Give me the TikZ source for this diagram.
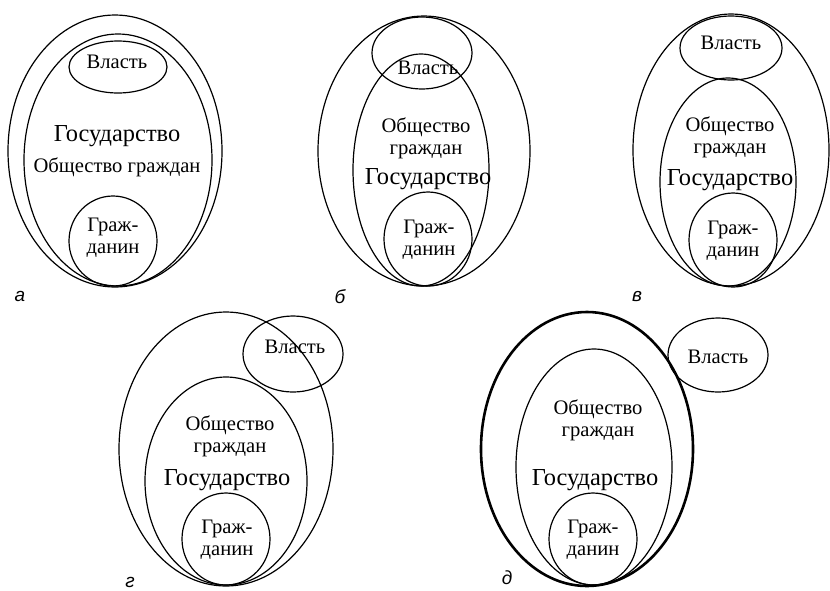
\documentclass[tikz,border=0pt]{standalone}
\usepackage{fontspec}
\setmainfont{Liberation Serif}
\newfontfamily\panelfont{Liberation Sans}
\usepackage{tikz}

\tikzset{
  part/.style={draw, line width=0.6pt},
  bold part/.style={draw, line width=1.3pt},
  txt/.style={font=\fontsize{10.3}{11}\selectfont, align=center, inner sep=0pt},
  bigtxt/.style={font=\fontsize{12.2}{13}\selectfont, inner sep=0pt},
  tag/.style={font=\panelfont\itshape\fontsize{9.5}{10}\selectfont, inner sep=0pt}
}

\begin{document}
\begin{tikzpicture}[x=0.5pt, y=-0.5pt]
      \useasboundingbox (0,0) rectangle (830,590);

      % Panel a - everything inside the state
      \draw[part] (115,151) ellipse [x radius=107, y radius=136];
      \draw[part] (118,160) ellipse [x radius=94, y radius=126];
      \draw[part] (118,67) ellipse [x radius=49, y radius=26];
      \draw[part] (113,241) ellipse [x radius=44, y radius=45];
      \node[txt] (vlastA) at (117,62) {Власть};
      \node[bigtxt] (gosA) at (117,136) {Государство};
      \node[txt] (obshA) at (117,167) {Общество граждан};
      \node[txt] (grazhA) at (113,238) {Граж-\\данин};
      \node[tag] (tagA) at (20,296) {а};

      % Panel b - power on the border of society
      \draw[part] (424,151) ellipse [x radius=106, y radius=135];
      \draw[part] (421,170) ellipse [x radius=68, y radius=116];
      \draw[part] (422,53) ellipse [x radius=50, y radius=36];
      \draw[part] (428,239) ellipse [x radius=44, y radius=47];
      \node[txt] (vlastB) at (428,68) {Власть};
      \node[txt] (obshB) at (426,138) {Общество\\граждан};
      \node[bigtxt] (gosB) at (428,179) {Государство};
      \node[txt] (grazhB) at (429,240) {Граж-\\данин};
      \node[tag] (tagB) at (340,297) {б};

      % Panel v - power apart from society
      \draw[part] (731,150) ellipse [x radius=98, y radius=136];
      \draw[part] (731,48) ellipse [x radius=51, y radius=32];
      \draw[part] (728,182) ellipse [x radius=68, y radius=104];
      \draw[part] (733,240) ellipse [x radius=44, y radius=47];
      \node[txt] (vlastV) at (731,43) {Власть};
      \node[txt] (obshV) at (730,137) {Общество\\граждан};
      \node[bigtxt] (gosV) at (730,180) {Государство};
      \node[txt] (grazhV) at (733,241) {Граж-\\данин};
      \node[tag] (tagV) at (637,297) {в};

      % Panel g - power on the border of the state
      \draw[part] (226,449) ellipse [x radius=107, y radius=137];
      \draw[part] (226,481) ellipse [x radius=81, y radius=104];
      \draw[part] (293,354) ellipse [x radius=50, y radius=38];
      \draw[part] (226,539) ellipse [x radius=44, y radius=46];
      \node[txt] (vlastG) at (295,347) {Власть};
      \node[txt] (obshG) at (230,436) {Общество\\граждан};
      \node[bigtxt] (gosG) at (227,480) {Государство};
      \node[txt] (grazhG) at (227,540) {Граж-\\данин};
      \node[tag] (tagG) at (130,582) {г};

      % Panel d - power outside the state
      \draw[bold part] (587,449) ellipse [x radius=106, y radius=137];
      \draw[part] (594,467) ellipse [x radius=78, y radius=118];
      \draw[part] (718,355) ellipse [x radius=50, y radius=37];
      \draw[part] (593,539) ellipse [x radius=44, y radius=46];
      \node[txt] (vlastD) at (718,357) {Власть};
      \node[txt] (obshD) at (598,420) {Общество\\граждан};
      \node[bigtxt] (gosD) at (595,480) {Государство};
      \node[txt] (grazhD) at (593,540) {Граж-\\данин};
      \node[tag] (tagD) at (507,578) {д};
\end{tikzpicture}
\end{document}
